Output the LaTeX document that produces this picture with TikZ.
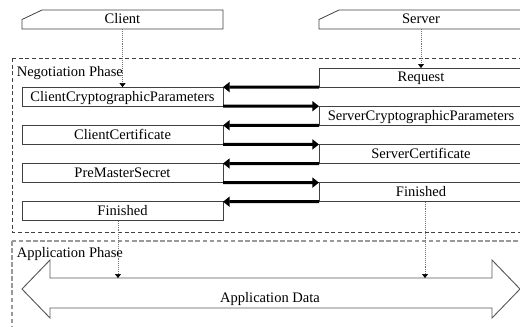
\documentclass[tikz,border=0pt]{standalone}
\usepackage{fontspec}
\setmainfont{Liberation Serif}
\usetikzlibrary{arrows.meta,calc}
\begin{document}
\begin{tikzpicture}[x=0.75pt,y=-0.75pt,
  font=\fontsize{10.9}{13}\selectfont,
  outline/.style={draw=black!75, line width=0.6pt},
  msgbox/.style={outline, fill=white, inner sep=0pt, outer sep=0pt,
    minimum width=150.75pt, minimum height=14.325pt,
    text height=0.66em, text depth=0pt},
  srvbox/.style={msgbox, minimum width=153pt},
  hdrtext/.style={inner sep=0pt, outer sep=0pt,
    minimum width=150.75pt, minimum height=14.25pt,
    text height=0.66em, text depth=0pt},
  srvhdr/.style={hdrtext, minimum width=153pt},
  lifeline/.style={densely dotted, draw=black!55, line width=0.45pt,
    -{Triangle[length=3pt,width=4.5pt,color=black]}},
  msg/.style={line width=2.25pt, -{Triangle[length=5pt,width=7.5pt]}},
  negframe/.style={draw=black!75, line width=0.6pt, dash pattern=on 3pt off 2pt},
  appframe/.style={draw=black!40, line width=1.3pt, dash pattern=on 3.5pt off 1.8pt},
  bigarrow/.style={draw=black!65, line width=0.7pt, fill=white},
  phaselabel/.style={anchor=base west, inner sep=0pt}
]
\useasboundingbox (0,0) rectangle (520,326);

% phase frames
\draw[negframe] (12,58) rectangle (530,232);
\draw[appframe] (12,241) rectangle (530,340);

% participant headers
\node[hdrtext] (cl) at (122.5,19.5) {Client};
\node[srvhdr]  (sv) at (421,19.5) {Server};
\foreach \h in {cl,sv}
  \draw[outline] (\h.south west) -- (\h.west) -- ($(\h.north west)+(20,0)$)
    -- (\h.north east) -- (\h.south east) -- cycle;

% phase labels
\node[phaselabel] (negl) at (16.5,76) {Negotiation Phase};
\node[phaselabel] (appl) at (16.5,257.5) {Application Phase};

% handshake messages
\node[srvbox] (req) at (421,77.55)   {Request};
\node[msgbox] (ccp) at (122.5,96.65) {ClientCryptographicParameters};
\node[srvbox] (scp) at (421,115.75)  {ServerCryptographicParameters};
\node[msgbox] (cc)  at (122.5,134.85) {ClientCertificate};
\node[srvbox] (sc)  at (421,153.95)  {ServerCertificate};
\node[msgbox] (pms) at (122.5,173.05) {PreMasterSecret};
\node[srvbox] (sf)  at (421,192.15)  {Finished};
\node[msgbox] (cf)  at (122.5,211.25) {Finished};

\draw[msg] (req.south west) -- (ccp.north east);
\draw[msg] (ccp.south east) -- (scp.north west);
\draw[msg] (scp.south west) -- (cc.north east);
\draw[msg] (cc.south east)  -- (sc.north west);
\draw[msg] (sc.south west)  -- (pms.north east);
\draw[msg] (pms.south east) -- (sf.north west);
\draw[msg] (sf.south west)  -- (cf.north east);

% application data channel
\draw[bigarrow] (22,289) -- (50,260) -- (50,278) -- (492,278) -- (492,260)
  -- (520,289) -- (492,318) -- (492,308) -- (50,308) -- (50,318) -- cycle;
\node[anchor=base, inner sep=0pt] (adata) at (270,302.5) {Application Data};
\coordinate (cend) at (118,278);
\coordinate (send) at (425,278);

% lifelines
\draw[lifeline] (cl.south) -- (ccp.north);
\draw[lifeline] (sv.south) -- (req.north);
\draw[lifeline] (cf.south -| cend) -- (cend);
\draw[lifeline] (sf.south -| send) -- (send);
\end{tikzpicture}
\end{document}
